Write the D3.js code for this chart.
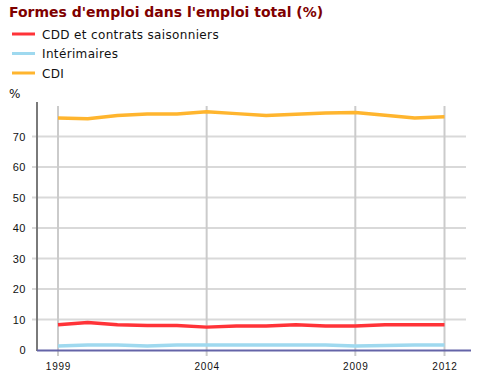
<!DOCTYPE html>
<html>
<head>
<meta charset="utf-8">
<script src="https://cdn.jsdelivr.net/npm/d3@7"></script>
<style>
  body { margin: 0; background: #fff; }
  svg { font-family: Verdana, "DejaVu Sans", sans-serif; }
</style>
</head>
<body>
<svg id="chart" width="477" height="383"></svg>
<script>
// values
var years = [1999, 2000, 2001, 2002, 2003, 2004, 2005, 2006, 2007, 2008, 2009, 2010, 2011, 2012];
var cdd = [8.3, 9.0, 8.3, 8.0, 8.0, 7.5, 7.9, 7.9, 8.3, 7.9, 7.9, 8.3, 8.3, 8.3];
var interim = [1.3, 1.6, 1.6, 1.3, 1.6, 1.6, 1.6, 1.6, 1.6, 1.6, 1.3, 1.5, 1.6, 1.6];
var cdi = [76.1, 75.8, 76.9, 77.4, 77.4, 78.1, 77.5, 76.9, 77.3, 77.7, 77.9, 77.0, 76.1, 76.5];
var yTicks = [0, 10, 20, 30, 40, 50, 60, 70];
var xTicks = [1999, 2004, 2009, 2012];

var series = [
    {name: "CDD et contrats saisonniers", color: "#ff3338", values: cdd},
    {name: "Intérimaires", color: "#9fd9ef", values: interim},
    {name: "CDI", color: "#ffb52e", values: cdi}
];

var svg = d3.select("#chart");

var x = d3.scaleLinear().domain([1999, 2012]).range([58, 444.5]);
var y = d3.scaleLinear().domain([0, 80]).range([350, 106]);

// title
svg.append("text")
   .attr("x", 9).attr("y", 17)
   .style("font-size", "14px").style("font-weight", "bold")
   .attr("fill", "#7f0000")
   .text("Formes d'emploi dans l'emploi total (%)");

// legend
var leg = svg.selectAll(".leg").data(series).enter().append("g")
    .attr("transform", function(d, i) { return "translate(0," + (34 + i * 19.5) + ")"; });
leg.append("line").attr("x1", 12).attr("x2", 35).attr("y1", 0).attr("y2", 0)
   .attr("stroke", function(d) { return d.color; }).attr("stroke-width", 3);
leg.append("text").attr("x", 42).attr("y", 4.5)
   .style("font-size", "12px").style("letter-spacing", "0.35px").attr("fill", "#111")
   .text(function(d) { return d.name; });

svg.append("text").attr("x", 9).attr("y", 98)
   .style("font-size", "12px").attr("fill", "#111").text("%");

// horizontal grid
svg.selectAll(".hgrid").data(yTicks.slice(1)).enter().append("line")
   .attr("x1", 32).attr("x2", 466)
   .attr("y1", function(d) { return y(d); }).attr("y2", function(d) { return y(d); })
   .attr("stroke", "#d9d9d9").attr("stroke-width", 2);

// vertical grid
svg.selectAll(".vgrid").data(xTicks).enter().append("line")
   .attr("x1", function(d) { return x(d); }).attr("x2", function(d) { return x(d); })
   .attr("y1", 106).attr("y2", 356)
   .attr("stroke", "#cbcbcb").attr("stroke-width", 2);

// y axis
var yAxis = d3.axisLeft(y).tickValues(yTicks).tickSize(0).tickPadding(11);
var gy = svg.append("g").attr("transform", "translate(37,0)").call(yAxis);
gy.select(".domain").remove();
gy.selectAll("text").style("font-size", "11px").style("letter-spacing", "0.5px").attr("fill", "#111");
svg.append("line").attr("x1", 37).attr("x2", 37).attr("y1", 102).attr("y2", 351)
   .attr("stroke", "#7a7a7a").attr("stroke-width", 2);

// x axis
var xAxis = d3.axisBottom(x).tickValues(xTicks).tickFormat(d3.format("d")).tickSize(0).tickPadding(13);
var gx = svg.append("g").attr("transform", "translate(0,350)").call(xAxis);
gx.select(".domain").remove();
gx.selectAll("text").style("font-size", "10px").style("letter-spacing", "0.8px").attr("fill", "#111");

// lines
var line = d3.line()
    .x(function(d, i) { return x(years[i]); })
    .y(function(d) { return y(d); });

svg.selectAll(".series").data(series).enter().append("path")
   .attr("d", function(d) { return line(d.values); })
   .attr("fill", "none")
   .attr("stroke", function(d) { return d.color; })
   .attr("stroke-width", 3.5)
   .attr("stroke-linejoin", "round");

// baseline
svg.append("line").attr("x1", 37).attr("x2", 471).attr("y1", 350.5).attr("y2", 350.5)
   .attr("stroke", "#6464a8").attr("stroke-width", 2);
</script>
</body>
</html>
